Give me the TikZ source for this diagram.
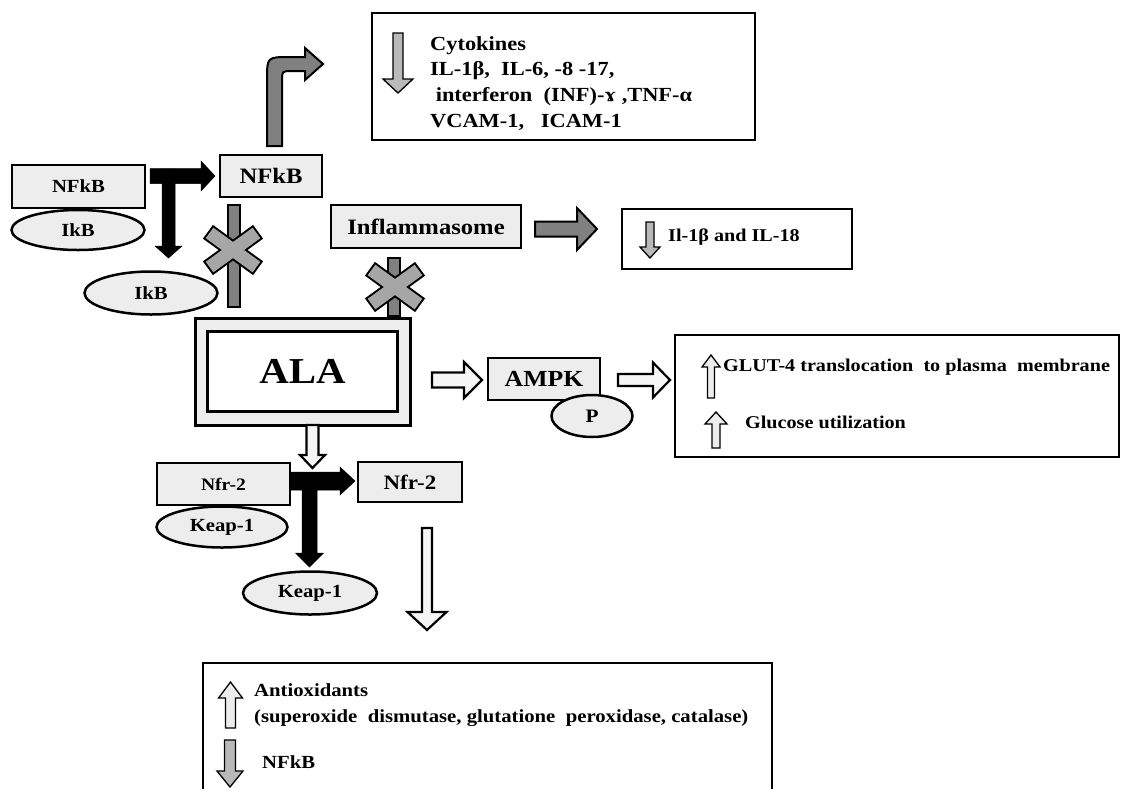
\documentclass[tikz,border=0pt]{standalone}
\usepackage{fontspec}
\setmainfont{Liberation Serif}[FakeStretch=1.12]
\usetikzlibrary{calc,shapes,positioning}

\definecolor{boxgray}{gray}{0.93}
\definecolor{arrowgray}{gray}{0.5}
\definecolor{crossgray}{gray}{0.65}

\newcommand{\fsz}[1]{\fontsize{#1}{#1}\selectfont\bfseries}

% block arrow: style, x, y, angle, length, shaft half, head half, head length
\newcommand{\fatarrow}[8]{%
  \begin{scope}[shift={(#2,#3)},rotate=#4]
    \filldraw[#1] (0,-#6) -- ({#5-#8},-#6) -- ({#5-#8},-#7) -- (#5,0)
      -- ({#5-#8},#7) -- ({#5-#8},#6) -- (0,#6) -- cycle;
  \end{scope}}

% grey cross over a bar
\newcommand{\crossmark}[2]{%
  \begin{scope}[shift={(#1,#2)}]
    \foreach \a in {36,-36}
      \draw[line width=4pt, rotate=\a] (-29,-6.5) rectangle (29,6.5);
    \foreach \a in {36,-36}
      \fill[crossgray, rotate=\a] (-29,-6.5) rectangle (29,6.5);
  \end{scope}}

\tikzset{
  greybox/.style={draw, line width=2.5pt, fill=boxgray, inner sep=0pt},
  greyoval/.style={ellipse, draw, line width=2.5pt, fill=boxgray, inner sep=0pt},
  textbox/.style={draw, line width=2.5pt, fill=white, inner sep=0pt},
  txt/.style={inner sep=0pt, anchor=west},
  blackarrow/.style={fill=black, draw=black, line width=0.5pt},
  grayarrow/.style={fill=arrowgray, draw=black, line width=2pt},
  whitearrow/.style={fill=gray!8, draw=black, line width=2.2pt},
  downsmall/.style={fill=gray!55, draw=black, line width=1.3pt},
  upsmall/.style={fill=gray!15, draw=black, line width=1.3pt},
  greybar/.style={fill=arrowgray, draw=black, line width=2pt}
}

\begin{document}
\begin{tikzpicture}[x=1pt, y=-1pt]
\path[use as bounding box] (0,0) rectangle (1122,788);
\clip (0,0) rectangle (1122,788);

% NFkB / IkB
\node[greyoval, minimum width=133, minimum height=40, font=\fsz{18.5}] (ikbL) at (78,230) {IkB};
\node[greybox, minimum width=133, minimum height=43, font=\fsz{18.5}] (nfkbL) at (78.5,186.5) {NFkB};
\node[greybox, minimum width=102, minimum height=42, font=\fsz{22}] (nfkbR) at (271,176) {NFkB};
\node[greyoval, minimum width=133, minimum height=43, font=\fsz{18.5}] (ikbD) at (151,293) {IkB};
\fatarrow{blackarrow}{150}{176}{0}{65}{7.5}{15}{14}
\fatarrow{blackarrow}{168.5}{169}{-90}{89}{6.5}{13.5}{12}

% to cytokines
\filldraw[grayarrow] (267,146) -- (267,80) .. controls (267,57) .. (290,57) -- (305,57)
  -- (305,48) -- (323,64) -- (305,80) -- (305,71) -- (292,71)
  .. controls (282,71) .. (282,81) -- (282,146) -- cycle;
\node[textbox, minimum width=383, minimum height=127] (cytobox) at (563.5,76.5) {};
\fatarrow{downsmall}{398}{33}{-90}{60}{5}{15}{14}
\def\cytolines{1/46/{Cytokines},2/71/{IL-1β,\ \ IL-6, -8 -17,},3/97/{\ interferon\ \ (INF)-ɤ ,TNF-α},4/122/{VCAM-1,\ \ \ ICAM-1}}
\foreach \i/\y/\lbl in \cytolines
  \node[txt, font=\fsz{20}] (cyto\i) at (430,\y) {\lbl};

% blocked paths
\filldraw[greybar] (228,205) rectangle (240,307);
\crossmark{233}{250}
\filldraw[greybar] (388,258) rectangle (400,316);
\crossmark{395}{287}

% inflammasome
\node[greybox, minimum width=190, minimum height=43, font=\fsz{22}] (inflam) at (426,226.5) {Inflammasome};
\fatarrow{grayarrow}{535}{229}{0}{62}{7.5}{21}{20}
\node[textbox, minimum width=230, minimum height=60] (ilbox) at (737,239) {};
\fatarrow{downsmall}{650}{222}{-90}{36}{4}{10}{11}
\node[txt, font=\fsz{18}] (iltext) at (668,237) {Il-1β and IL-18};

% ALA
\node[draw, line width=3pt, fill=boxgray, minimum width=215, minimum height=107] (alaout) at (302.5,371.5) {};
\node[draw, line width=3pt, fill=white, minimum width=190, minimum height=80, font=\fsz{36.5}] (ala) at (alaout.center) {ALA};

% AMPK
\fatarrow{whitearrow}{432}{380}{0}{50}{7.5}{18}{18}
\node[greybox, minimum width=112, minimum height=42, font=\fsz{23}] (ampk) at (544,379) {AMPK};
\node[greyoval, minimum width=81, minimum height=42, font=\fsz{19}] (pnode) at (592,416) {P};
\fatarrow{whitearrow}{618}{380}{0}{52}{6}{17.5}{17}
\node[textbox, minimum width=444, minimum height=122] (glutbox) at (897,396) {};
\fatarrow{upsmall}{711}{398}{90}{43}{3.5}{9}{12}
\fatarrow{upsmall}{716}{448}{90}{36}{4}{11}{12}
\node[txt, font=\fsz{18}] (glut1) at (723,367) {GLUT-4 translocation\ \ to plasma\ \ membrane};
\node[txt, font=\fsz{18}] (glut2) at (745,422) {Glucose utilization};

% Nfr-2 / Keap-1
\fatarrow{whitearrow}{312.5}{425}{-90}{43}{6}{12.5}{13}
\node[greyoval, minimum width=131, minimum height=41, font=\fsz{18.5}] (keapL) at (222,527) {Keap-1};
\node[greybox, minimum width=133, minimum height=42, font=\fsz{17.5}] (nfr2L) at (223.5,484) {Nfr-2};
\node[greybox, minimum width=104, minimum height=40, font=\fsz{20.5}] (nfr2R) at (410,482) {Nfr-2};
\node[greyoval, minimum width=134, minimum height=43, font=\fsz{18.5}] (keapD) at (310,593) {Keap-1};
\fatarrow{blackarrow}{290}{481}{0}{65}{9}{14}{15}
\fatarrow{blackarrow}{309.5}{474}{-90}{93}{7.5}{14}{14}
\fatarrow{whitearrow}{427}{528}{-90}{102}{5}{19.5}{18}

% antioxidants
\node[textbox, minimum width=569, minimum height=154] (antibox) at (487.5,740) {};
\fatarrow{upsmall}{230.5}{728}{90}{46}{5}{12}{16}
\fatarrow{downsmall}{230}{740}{-90}{47}{5.5}{13}{16}
\node[txt, font=\fsz{18.5}] (anti1) at (254,690) {Antioxidants};
\node[txt, font=\fsz{18.5}] (anti2) at (254,718) {(superoxide\ \ dismutase, glutatione\ \ peroxidase, catalase)};
\node[txt, font=\fsz{18.5}] (anti3) at (262,762) {NFkB};

\end{tikzpicture}
\end{document}
